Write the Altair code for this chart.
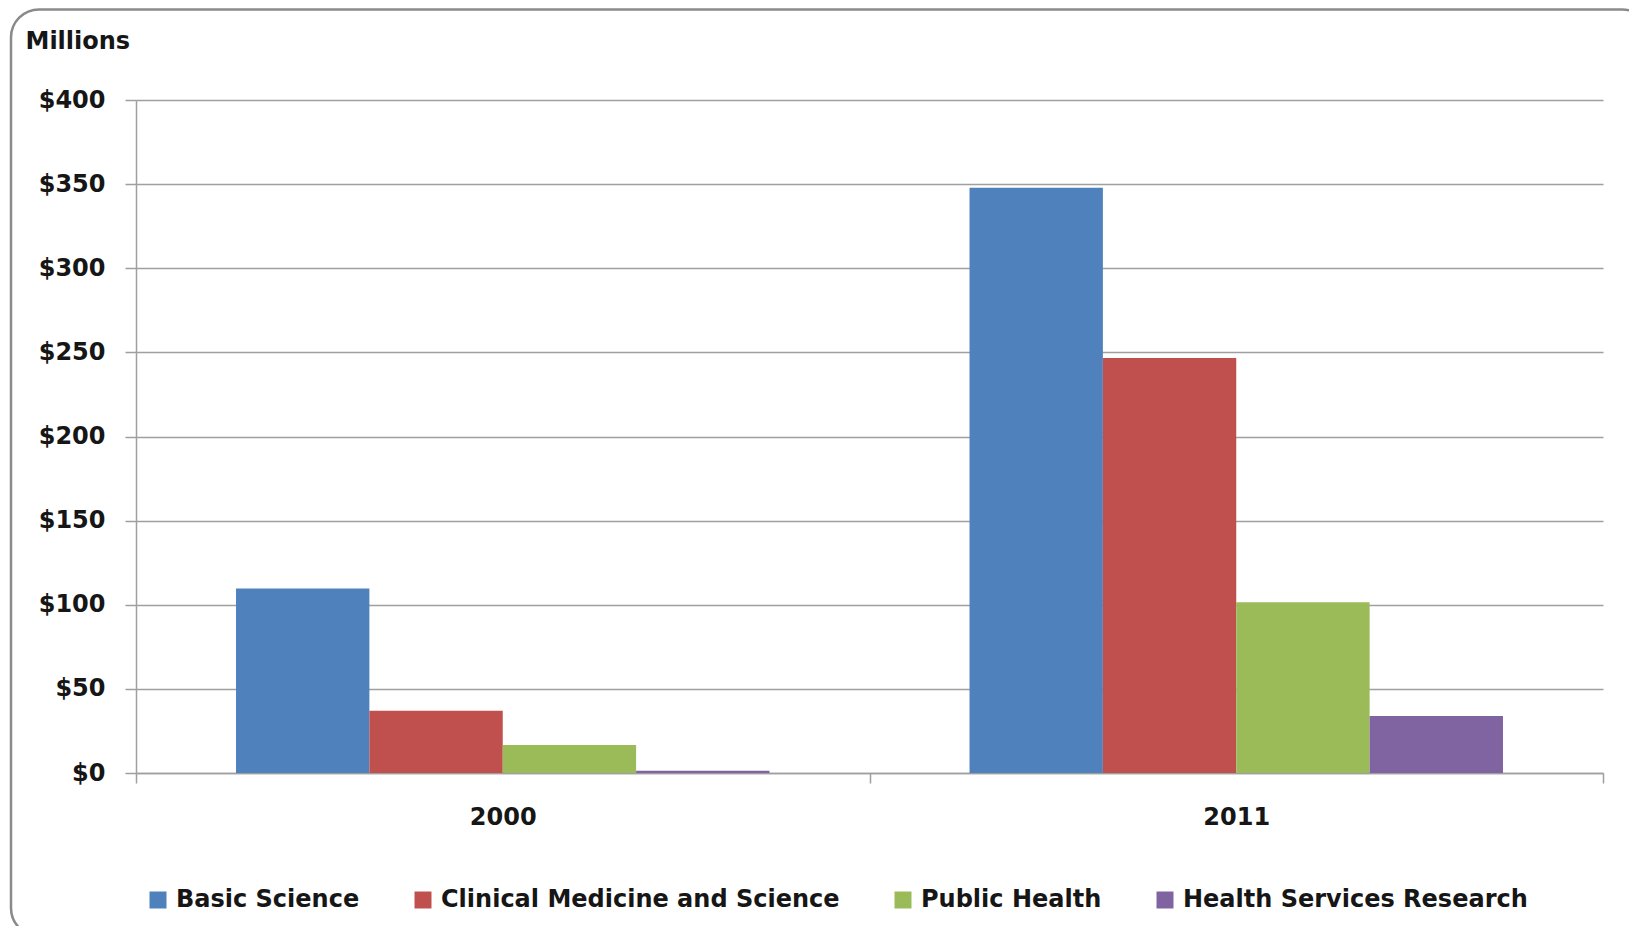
import altair as alt
import pandas as pd

years = ["2000", "2011"]
categories = ["Basic Science", "Clinical Medicine and Science", "Public Health", "Health Services Research"]
values_2000 = [109.6, 37.0, 16.6, 1.4]
values_2011 = [347.8, 246.7, 101.5, 33.9]
colors = ["#4F81BD", "#C0504D", "#9BBB59", "#8064A2"]
y_ticks = [0, 50, 100, 150, 200, 250, 300, 350, 400]

rows = []
for yr, vals in zip(years, [values_2000, values_2011]):
    for c, v in zip(categories, vals):
        rows.append({"year": yr, "category": c, "value": v})
df = pd.DataFrame(rows)

FONT = "DejaVu Sans"
TXT = "#161616"
GRID = "#9f9f9f"

bars = alt.Chart(df).mark_bar().encode(
    x=alt.X(
        "year:N", sort=years,
        scale=alt.Scale(paddingInner=0, paddingOuter=0),
        axis=alt.Axis(
            title=None, labelAngle=0, tickBand="extent", tickSize=10,
            tickColor=GRID, tickWidth=1.5, domainColor=GRID, domainWidth=1.5,
            labelFont=FONT, labelFontSize=24, labelFontWeight="bold",
            labelColor=TXT, labelPadding=22,
        ),
    ),
    xOffset=alt.XOffset(
        "category:N", sort=categories,
        scale=alt.Scale(paddingInner=0, paddingOuter=0.75),
    ),
    y=alt.Y(
        "value:Q",
        scale=alt.Scale(domain=[0, 400], nice=False),
        axis=alt.Axis(
            values=y_ticks, format="$.0f", title="Millions",
            titleAngle=0, titleX=-111, titleY=-52, titleAlign="left",
            titleBaseline="alphabetic", titleFont=FONT, titleFontSize=24,
            titleFontWeight="bold", titleColor=TXT,
            grid=True, gridColor=GRID, gridWidth=1.5,
            tickSize=11, tickColor=GRID, tickWidth=1.5,
            domainColor=GRID, domainWidth=1.5,
            labelFont=FONT, labelFontSize=24, labelFontWeight="bold",
            labelColor=TXT, labelPadding=20,
        ),
    ),
    color=alt.Color(
        "category:N",
        scale=alt.Scale(domain=categories, range=colors),
        legend=alt.Legend(
            orient="none", legendX=10, legendY=788, direction="horizontal",
            title=None, symbolType="square", symbolSize=289,
            symbolStrokeWidth=0, labelFont=FONT, labelFontSize=24,
            labelFontWeight="bold", labelColor=TXT, labelOffset=6,
            columnPadding=51, labelLimit=1000,
        ),
    ),
)

border = alt.Chart(pd.DataFrame({"a": [0]})).mark_rect(
    fill="transparent", stroke="#8a8a8a", strokeWidth=2.5, cornerRadius=28
).encode(
    x=alt.value(-125), x2=alt.value(1514), y=alt.value(-90.5), y2=alt.value(836)
)

chart = alt.layer(border, bars).properties(
    width=1467, height=673,
    autosize=alt.AutoSizeParams(type="none"),
    padding={"left": 128, "top": 92, "right": 26, "bottom": 153},
    background="white",
).configure_view(stroke=None)

chart.save("out.html", embed_options={"renderer": "svg", "actions": False})
